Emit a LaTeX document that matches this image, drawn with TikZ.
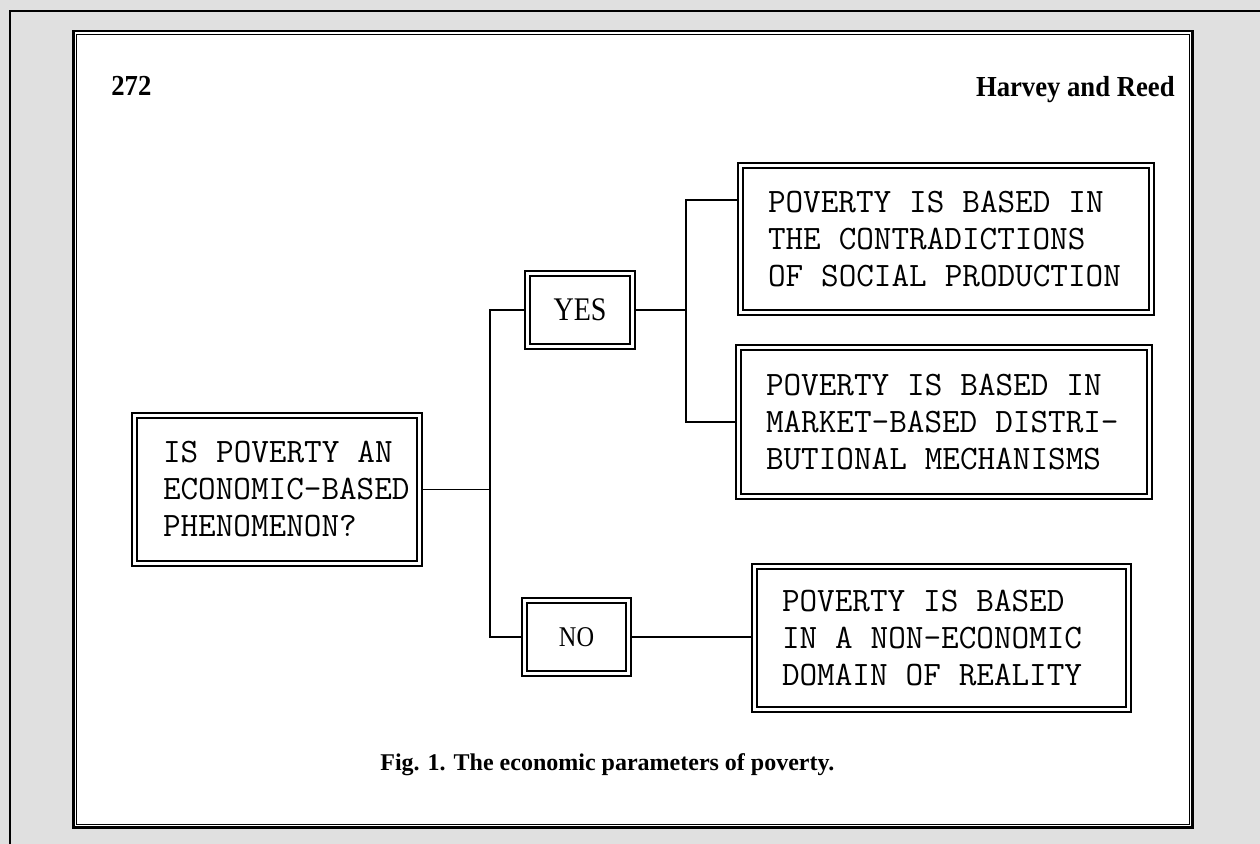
\documentclass[tikz,border=0pt]{standalone}
\usepackage{fontspec}
\newfontfamily\ynfont[FakeStretch=0.85]{Liberation Serif}
\newfontfamily\hdrfont[FakeStretch=0.92]{Liberation Serif}
\newfontfamily\capfont{Liberation Serif}
\newcommand\ws{\hspace{0.525em}}
\definecolor{bg}{HTML}{E0E0E0}
\begin{document}
\begin{tikzpicture}[x=0.5pt,y=-0.5pt,
  dbox/.style={draw, line width=1pt, inner ysep=0pt,
    path picture={\draw[line width=0.75pt]
      ([shift={(2.5pt,-2.5pt)}]path picture bounding box.north west) rectangle
      ([shift={(-2.5pt,2.5pt)}]path picture bounding box.south east);}},
  txt/.style={dbox, align=left, inner xsep=15pt,
    font=\ttfamily\fontsize{17.1pt}{18.5pt}\selectfont},
  yn/.style={dbox, align=center, minimum height=39pt},
  link/.style={line width=0.7pt},
  hdr/.style={inner sep=0pt, font=\hdrfont\bfseries\fontsize{14.5pt}{15pt}\selectfont},
  captext/.style={inner sep=0pt, font=\capfont\bfseries\fontsize{12pt}{13pt}\selectfont}]
\useasboundingbox (0,0) rectangle (1260,844);
\fill[bg] (0,0) rectangle (1260,844);
\draw[line width=1pt] (10,844) -- (10,11) -- (1260,11);
% page
\fill[white] (72,30) rectangle (1194,829);
\draw[line width=1.3pt] (73.2,31.2) rectangle (1192.3,827.3);
\draw[line width=0.65pt] (76.5,34.2) rectangle (1189.5,824.5);
% header and caption
\node[hdr, anchor=base west] (pgnum) at (111,96) {272};
\node[hdr, anchor=base east] (running) at (1175,97) {Harvey and Reed};
\node[captext, anchor=base west] (caption) at (380,770) {Fig. 1. The economic parameters of poverty.};
% boxes
\node[txt, minimum width=145pt, minimum height=76.5pt, text width=114pt, inner xsep=15.5pt] (Q) at (277,489.5)
  {\mbox{IS\ws POVERTY\ws AN}\\\mbox{ECONOMIC-BASED}\\\mbox{PHENOMENON?}};
\node[yn, minimum width=55pt, font=\ynfont\fontsize{16.5pt}{17pt}\selectfont] (YES) at (580,310) {YES};
\node[yn, minimum width=54.5pt, font=\ynfont\fontsize{14.3pt}{15pt}\selectfont] (NO) at (576.5,637) {NO};
\node[txt, minimum width=208pt, minimum height=76pt, text width=178pt] (A) at (946,239)
  {\mbox{POVERTY\ws IS\ws BASED\ws IN}\\\mbox{THE\ws CONTRADICTIONS}\\\mbox{OF\ws SOCIAL\ws PRODUCTION}};
\node[txt, minimum width=208pt, minimum height=77pt, text width=178pt] (B) at (944,422)
  {\mbox{POVERTY\ws IS\ws BASED\ws IN}\\\mbox{MARKET-BASED\ws DISTRI-}\\\mbox{BUTIONAL\ws MECHANISMS}};
\node[txt, minimum width=189.5pt, minimum height=74pt, text width=159.5pt] (C) at (941.5,638)
  {\mbox{POVERTY\ws IS\ws BASED}\\\mbox{IN\ws A\ws NON-ECONOMIC}\\\mbox{DOMAIN\ws OF\ws REALITY}};
% connectors
\coordinate (j1) at (490,489.5);
\coordinate (j2) at (686,310);
\coordinate (j2t) at (686,200);
\draw[link] (Q.east) -- (j1);
\draw[link] (YES.west) -| (j1) |- (NO.west);
\draw[link] (YES.east) -- (j2);
\draw[link] (A.west |- j2t) -- (j2t) |- (B.west);
\draw[link] (NO.east) -- (NO.east -| C.west);
\end{tikzpicture}
\end{document}
